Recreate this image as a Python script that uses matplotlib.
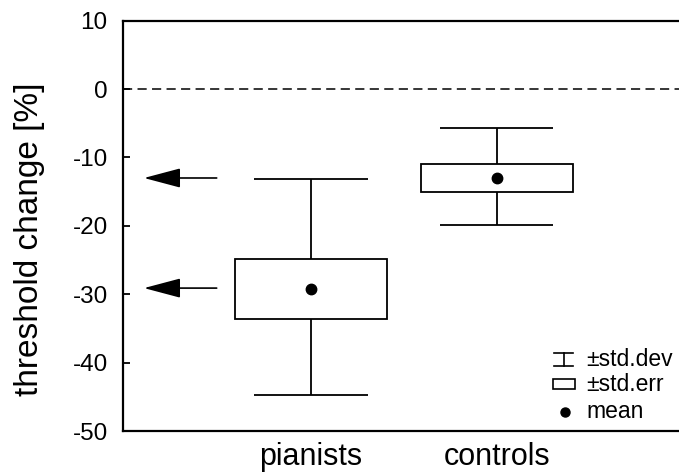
import numpy as np
import matplotlib.pyplot as plt
from matplotlib.patches import Rectangle

plt.rcParams['font.family'] = ['Liberation Sans', 'DejaVu Sans']
plt.rcParams['axes.unicode_minus'] = False

# group data (threshold change in %)
groups = ['pianists', 'controls']
means = [-29.2, -13.0]
err_lo = [-33.6, -15.0]   # mean - std.err
err_hi = [-24.8, -11.0]   # mean + std.err
dev_lo = [-44.8, -19.9]   # mean - std.dev
dev_hi = [-13.2, -5.7]    # mean + std.dev
arrow_y = [-13.0, -29.1]

pos = np.arange(1, len(groups) + 1)

fig = plt.figure(figsize=(6.79, 4.75), dpi=100)
ax = fig.add_axes([0.1811, 0.0926, 0.8189, 0.8638])

box_w = 0.82
cap_w = 0.61
lw = 1.3

# whiskers
ax.vlines(pos, err_hi, dev_hi, color='black', lw=lw)
ax.vlines(pos, dev_lo, err_lo, color='black', lw=lw)
ax.hlines(dev_hi, pos - cap_w/2, pos + cap_w/2, color='black', lw=lw)
ax.hlines(dev_lo, pos - cap_w/2, pos + cap_w/2, color='black', lw=lw)

# std.err boxes
ax.bar(pos, np.array(err_hi) - np.array(err_lo), bottom=err_lo, width=box_w,
       facecolor='white', edgecolor='black', lw=lw, zorder=2)

# means
ax.plot(pos, means, 'o', color='black', ms=7.5, zorder=3)

# zero line
ax.axhline(0, color='black', lw=1.1, ls=(0, (6, 3.5)), zorder=1)

# arrows
for y in arrow_y:
    ax.annotate('', xy=(0.103, y), xytext=(0.494, y),
                arrowprops=dict(arrowstyle='-|>,head_length=2.3,head_width=0.61',
                                mutation_scale=10, color='black', lw=1.2,
                                shrinkA=0, shrinkB=0))

ax.set_xlim(-0.01, 2.98)
ax.set_ylim(-50, 10)
ax.set_yticks(np.arange(-50, 11, 10))
ax.set_xticks(pos)
ax.set_xticklabels(groups, fontsize=22)
ax.tick_params(axis='x', length=0, pad=8)
ax.tick_params(axis='y', direction='in', length=5, width=1.3, labelsize=17.5, pad=11)
ax.set_ylabel('threshold change [%]', fontsize=24)
ax.yaxis.set_label_coords(-0.14, 0.468)

ax.spines['right'].set_visible(False)
for s in ['left', 'bottom', 'top']:
    ax.spines[s].set_linewidth(1.6)

# legend drawn by hand (axes fraction)
tr = ax.transAxes
def fx(px):
    return (px - 123) / 556.0
def fy(py):
    return 1 - (py - 20.7) / 410.3

sx = fx(563.7)
ax.plot([sx, sx], [fy(352.5), fy(365.5)], color='black', lw=1.2, transform=tr, clip_on=False)
ax.plot([fx(554), fx(573)], [fy(352.5)] * 2, color='black', lw=1.2, transform=tr, clip_on=False)
ax.plot([fx(554), fx(573)], [fy(365.5)] * 2, color='black', lw=1.2, transform=tr, clip_on=False)
ax.add_patch(Rectangle((fx(553.3), fy(389)), fx(575) - fx(553.3), fy(379.3) - fy(389),
                       transform=tr, facecolor='white', edgecolor='black', lw=1.2))
ax.plot([fx(565)], [fy(411.7)], 'o', color='black', ms=6.5, transform=tr, clip_on=False)

leg_labels = ['\u00b1std.dev', '\u00b1std.err', 'mean']
leg_y = [359, 384, 411.7]
for lab, y in zip(leg_labels, leg_y):
    ax.text(fx(586), fy(y), lab, transform=tr, fontsize=16.5, va='center', ha='left')

fig.savefig('out.png', dpi=100)
